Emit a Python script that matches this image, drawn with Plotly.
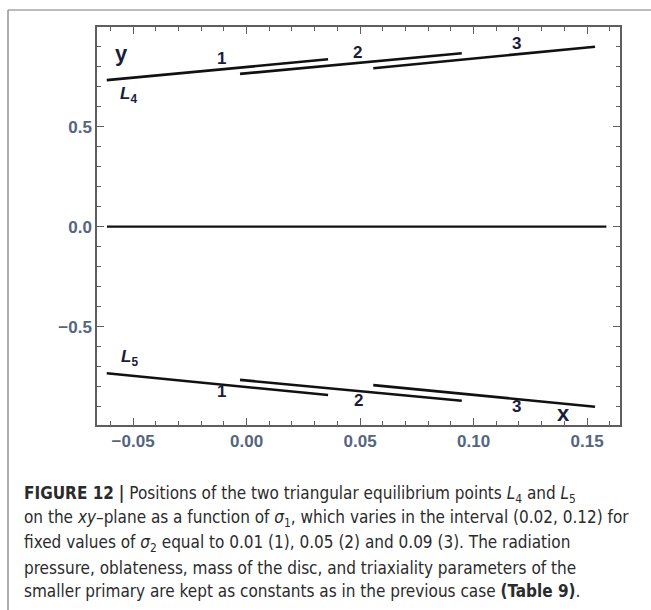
import plotly.graph_objects as go

# ---- data ----
curve_labels = ["1", "2", "3"]            # sigma2 = 0.01, 0.05, 0.09
x_start = [-0.0616, -0.0029, 0.0558]
x_end = [0.0359, 0.0948, 0.1535]
L4_y_start = [0.733, 0.764, 0.792]
L4_y_end = [0.837, 0.867, 0.900]
L5_y_start = [-0.733, -0.766, -0.792]
L5_y_end = [-0.8415, -0.870, -0.900]
zero_x = [-0.0615, 0.1585]
zero_y = [0.0, 0.0]

L4_label_x = [-0.011, 0.049, 0.119]
L4_label_y = [0.842, 0.871, 0.917]
L5_label_x = [-0.011, 0.0495, 0.119]
L5_label_y = [-0.825, -0.8665, -0.900]

x_ticks = [-0.05, 0.0, 0.05, 0.10, 0.15]
y_ticks = [-0.5, 0.0, 0.5]

caption_lines = [
    "<b>FIGURE 12</b> <b>|</b> Positions of the two triangular equilibrium points <i>L</i><sub>4</sub> and <i>L</i><sub>5</sub>",
    "on the <i>xy</i>–plane as a function of <i>σ</i><sub>1</sub>, which varies in the interval (0.02, 0.12) for",
    "fixed values of <i>σ</i><sub>2</sub> equal to 0.01 (1), 0.05 (2) and 0.09 (3). The radiation",
    "pressure, oblateness, mass of the disc, and triaxiality parameters of the",
    "smaller primary are kept as constants as in the previous case <b>(Table 9)</b>.",
]

# ---- layout geometry (pixels) ----
W, H = 651, 610
L, R, T, B = 97, 620, 27, 425


def px(xp):
    return (xp - L) / (R - L)


def py(yp):
    return (B - yp) / (B - T)


fig = go.Figure()

for i in range(3):
    fig.add_trace(go.Scatter(x=[x_start[i], x_end[i]], y=[L4_y_start[i], L4_y_end[i]],
                             mode="lines", line=dict(color="#111111", width=2.6),
                             showlegend=False, hoverinfo="skip"))
    fig.add_trace(go.Scatter(x=[x_start[i], x_end[i]], y=[L5_y_start[i], L5_y_end[i]],
                             mode="lines", line=dict(color="#111111", width=2.6),
                             showlegend=False, hoverinfo="skip"))
fig.add_trace(go.Scatter(x=zero_x, y=zero_y, mode="lines",
                         line=dict(color="#111111", width=2.2),
                         showlegend=False, hoverinfo="skip"))

SANS = "Liberation Sans"
lab_font = dict(family=SANS, size=17, color="#1b1b3c", weight="bold")
annos = []
for i in range(3):
    annos.append(dict(x=L4_label_x[i], y=L4_label_y[i], xref="x", yref="y",
                      text=curve_labels[i], showarrow=False, font=lab_font))
    annos.append(dict(x=L5_label_x[i], y=L5_label_y[i], xref="x", yref="y",
                      text=curve_labels[i], showarrow=False, font=lab_font))

big_font = dict(family=SANS, size=22, color="#1b1b3c", weight="bold")
annos.append(dict(x=-0.055, y=0.867, xref="x", yref="y", text="y",
                  showarrow=False, font=big_font))
annos.append(dict(x=0.1395, y=-0.933, xref="x", yref="y", text="x",
                  showarrow=False, font=big_font))
annos.append(dict(x=-0.0522, y=0.6585, xref="x", yref="y",
                  text="<i>L</i><sub>4</sub>", showarrow=False, font=lab_font))
annos.append(dict(x=-0.0514, y=-0.6565, xref="x", yref="y",
                  text="<i>L</i><sub>5</sub>", showarrow=False, font=lab_font))

cap_font = dict(family="Liberation Sans Narrow, DejaVu Sans Condensed",
                size=17, color="#2b2b2b")
cap_y = [494, 518.5, 543, 567.5, 591]
for txt, yy in zip(caption_lines, cap_y):
    annos.append(dict(x=px(22), y=py(yy), xref="paper", yref="paper", text=txt,
                      showarrow=False, xanchor="left", yanchor="middle", align="left",
                      font=cap_font))

frame_col = "#7a7a7a"
shapes = [
    dict(type="line", xref="paper", yref="paper", x0=px(8), x1=px(8), y0=py(10), y1=py(612),
         line=dict(color=frame_col, width=1.2)),
    dict(type="line", xref="paper", yref="paper", x0=px(8), x1=px(655), y0=py(10), y1=py(10),
         line=dict(color=frame_col, width=1.2)),
]

tick_font = dict(family=SANS, size=17, color="#55657f", weight="bold")
axis_col = "#5e5e5e"

fig.update_layout(
    width=W, height=H,
    margin=dict(l=L, r=W - R, t=T, b=H - B),
    paper_bgcolor="white", plot_bgcolor="white",
    annotations=annos, shapes=shapes,
    xaxis=dict(range=[-0.0659, 0.1645], tickvals=x_ticks, tickformat=".2f",
               ticks="inside", ticklen=7, tickwidth=1.2, tickcolor=axis_col,
               showline=True, linecolor=axis_col, linewidth=1.5, mirror="ticks",
               showgrid=False, zeroline=False, tickfont=tick_font,
               minor=dict(ticks="inside", dtick=0.01, tick0=0, ticklen=4,
                          tickcolor=axis_col, tickwidth=1.1, showgrid=False)),
    yaxis=dict(range=[-0.9915, 0.9985], tickvals=y_ticks, tickformat=".1f",
               ticks="inside", ticklen=7, tickwidth=1.2, tickcolor=axis_col,
               showline=True, linecolor=axis_col, linewidth=1.5, mirror="ticks",
               showgrid=False, zeroline=False, tickfont=tick_font,
               minor=dict(ticks="inside", dtick=0.1, tick0=0, ticklen=4,
                          tickcolor=axis_col, tickwidth=1.1, showgrid=False)),
)

fig.write_html("out.html")
